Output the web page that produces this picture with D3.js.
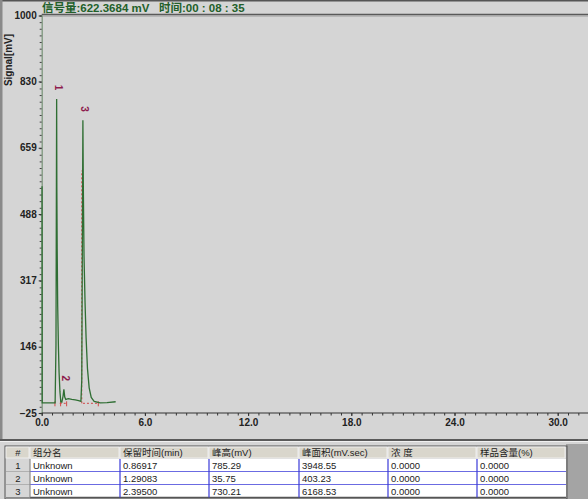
<!DOCTYPE html>
<html>
<head>
<meta charset="utf-8" />
<title>chromatogram</title>
<style>
  body { margin: 0; background: #d5d5d5; }
  svg { display: block; }
  text { font-family: "Liberation Sans", Arial, sans-serif; }
  .cjk { font-family: "Liberation Sans", "Noto Sans CJK SC", sans-serif; }
</style>
</head>
<body>
<svg id="mysvg" width="588" height="499"></svg>
<script src="https://d3js.org/d3.v7.min.js"></script>
<script>

// signal trace (min, mV)
var traceTime   = [0.02, 0.03, 0.78, 0.83, 0.869, 0.88, 0.90, 0.93, 0.97, 1.01, 1.06, 1.11, 1.17, 1.24, 1.29, 1.34, 1.40, 1.55, 1.75, 1.95, 2.15, 2.28, 2.33, 2.395, 2.42, 2.46, 2.52, 2.58, 2.66, 2.76, 2.88, 3.05, 3.40, 3.80, 4.30];
var traceSignal = [560,  1,    1,    150,  785,   560,  400,  250,  150,  80,   30,   4,    3,    18,   36,   16,   10,   12,   10,   9,    7,    5,    60,   730,   560,  380,  260,  170,  90,   40,   15,   5,    1,    2,    4];

var peakNo     = ["1", "2", "3"];
var peakTime   = [0.86917, 1.29083, 2.395];
var peakHeight = [785.29, 35.75, 730.21];

// integration marks (red dashed)
var markTime   = [0.77, 1.10, 1.45, 3.29];
var baseStart  = [1.05, 2.40];
var baseEnd    = [1.45, 3.29];

var yTicks = [-25, 146, 317, 488, 659, 830, 1000];
var xTicks = [0, 6, 12, 18, 24, 30];

var colHead  = ["#", "组分名", "保留时间(min)", "峰高(mV)", "峰面积(mV.sec)", "浓 度", "样品含量(%)"];
var rowNo    = ["1", "2", "3"];
var names    = ["Unknown", "Unknown", "Unknown"];
var retTimes = ["0.86917", "1.29083", "2.39500"];
var heights  = ["785.29", "35.75", "730.21"];
var areas    = ["3948.55", "403.23", "6168.53"];
var concs    = ["0.0000", "0.0000", "0.0000"];
var contents = ["0.0000", "0.0000", "0.0000"];

var svg = d3.select("#mysvg");

var x = d3.scaleLinear().domain([0, 30]).range([41.7, 557.7]);
var y = d3.scaleLinear().domain([-25, 1000]).range([413, 15.5]);

// window frame bits
svg.append("rect").attr("x", 0).attr("y", 0).attr("width", 588).attr("height", 1.5).attr("fill", "#555");
svg.append("rect").attr("x", 0).attr("y", 0).attr("width", 2.5).attr("height", 440).attr("fill", "#8a8a8a");
svg.append("line").attr("x1", 41.7).attr("x2", 588).attr("y1", 14.5).attr("y2", 14.5).attr("stroke", "#5a5a5a").attr("stroke-width", 1.5);
svg.append("line").attr("x1", 41.7).attr("x2", 588).attr("y1", 16).attr("y2", 16).attr("stroke", "#9a9a9a").attr("stroke-width", 1);

// title
svg.append("text").attr("class", "cjk")
  .attr("x", 42).attr("y", 11.5)
  .attr("font-size", 11.5).attr("font-weight", "bold").attr("fill", "#22602a")
  .style("white-space", "pre")
  .text("信号量:622.3684 mV   时间:00 : 08 : 35");

// y axis
var yMinor = d3.range(0, 61).map(function(i) { return 1000 - i * 17.1; }).filter(function(v) { return v >= -25; });
svg.append("g").attr("transform", "translate(41.7,0)")
  .call(d3.axisLeft(y).tickValues(yMinor).tickSize(2).tickFormat(""))
  .call(function(g) {
    g.select(".domain").attr("stroke", "#7d977d").attr("stroke-width", 1.3);
    g.selectAll(".tick line").attr("stroke", "#444");
  });
svg.append("g").attr("transform", "translate(41.7,0)")
  .call(d3.axisLeft(y).tickValues(yTicks).tickSize(3).tickPadding(2).tickFormat(d3.format("d")))
  .call(function(g) {
    g.select(".domain").remove();
    g.selectAll(".tick line").attr("stroke", "#333");
    g.selectAll(".tick text").attr("font-size", 10).attr("font-weight", "bold").attr("fill", "#222")
      .attr("font-family", "Liberation Sans, Arial, sans-serif");
  });

svg.append("text")
  .attr("transform", "translate(12,60) rotate(-90)")
  .attr("text-anchor", "middle")
  .attr("font-size", 10).attr("font-weight", "bold").attr("fill", "#222")
  .text("Signal[mV]");

// x axis
svg.append("line").attr("x1", 41.7).attr("x2", 588).attr("y1", 413).attr("y2", 413).attr("stroke", "#333").attr("stroke-width", 1.2);
var xMinor = d3.range(0, 53).map(function(i) { return i * 0.6; });
svg.append("g").attr("transform", "translate(0,413)")
  .call(d3.axisBottom(x).tickValues(xMinor).tickSize(2.5).tickFormat(""))
  .call(function(g) {
    g.select(".domain").remove();
    g.selectAll(".tick line").attr("stroke", "#333");
  });
svg.append("g").attr("transform", "translate(0,413)")
  .call(d3.axisBottom(x).tickValues(xTicks).tickSize(3).tickPadding(3).tickFormat(d3.format(".1f")))
  .call(function(g) {
    g.select(".domain").remove();
    g.selectAll(".tick line").attr("stroke", "#333");
    g.selectAll(".tick text").attr("font-size", 10).attr("font-weight", "bold").attr("fill", "#222")
      .attr("font-family", "Liberation Sans, Arial, sans-serif");
  });

// integration marks
var red = "#d04848";
svg.append("line")
  .attr("x1", x(2.33)).attr("x2", x(2.33)).attr("y1", y(0)).attr("y2", y(600))
  .attr("stroke", red).attr("stroke-width", 1).attr("stroke-dasharray", "2,2");
svg.selectAll(".base").data(baseStart).enter().append("line")
  .attr("x1", function(d) { return x(d); })
  .attr("x2", function(d, i) { return x(baseEnd[i]); })
  .attr("y1", y(0)).attr("y2", y(0))
  .attr("stroke", red).attr("stroke-width", 1).attr("stroke-dasharray", "2,2");
svg.selectAll(".mark").data(markTime).enter().append("line")
  .attr("x1", function(d) { return x(d); })
  .attr("x2", function(d) { return x(d); })
  .attr("y1", y(0) - 2).attr("y2", y(0) + 3)
  .attr("stroke", red).attr("stroke-width", 1);

// signal trace
var trace = traceTime.map(function(t, i) { return [t, traceSignal[i]]; });
var line = d3.line()
  .x(function(d) { return x(d[0]); })
  .y(function(d) { return y(d[1]); });
svg.append("path").datum(trace)
  .attr("d", line)
  .attr("fill", "none").attr("stroke", "#2f6e33").attr("stroke-width", 1.3);

// peak numbers
svg.selectAll(".pk").data(peakNo).enter().append("text")
  .attr("transform", function(d, i) {
    return "translate(" + (x(peakTime[i]) - 2) + "," + (y(peakHeight[i]) - 14) + ") rotate(90)";
  })
  .attr("font-size", 10).attr("font-weight", "bold").attr("fill", "#8e1c4e")
  .text(function(d) { return d; });

// divider between chart and table
svg.append("rect").attr("x", 0).attr("y", 439).attr("width", 588).attr("height", 2).attr("fill", "#5a5a5a");
svg.append("rect").attr("x", 0).attr("y", 441).attr("width", 588).attr("height", 1).attr("fill", "#f0f0f0");

// table
var colX = [6, 30, 120, 209, 299, 388, 477, 566];
var rowY = [447, 459, 472, 485, 497.5];
var cols = [rowNo, names, retTimes, heights, areas, concs, contents];

svg.append("rect").attr("x", 566).attr("y", 444).attr("width", 22).attr("height", 55).attr("fill", "#a4a4a4");
svg.append("rect").attr("x", colX[0] - 1).attr("y", rowY[0] - 1).attr("width", 566 - colX[0] + 2).attr("height", 53)
  .attr("fill", "none").attr("stroke", "#555").attr("stroke-width", 1);

// header
svg.selectAll(".hcell").data(colHead).enter().append("rect")
  .attr("x", function(d, i) { return colX[i]; })
  .attr("y", rowY[0])
  .attr("width", function(d, i) { return colX[i + 1] - colX[i] - 1; })
  .attr("height", rowY[1] - rowY[0] - 1)
  .attr("fill", "#d9d6cc").attr("stroke", "#f4f4f4").attr("stroke-width", 0.8);
svg.selectAll(".htext").data(colHead).enter().append("text").attr("class", "cjk")
  .attr("x", function(d, i) { return i == 0 ? (colX[0] + colX[1]) / 2 : colX[i] + 3; })
  .attr("y", rowY[0] + 9)
  .attr("text-anchor", function(d, i) { return i == 0 ? "middle" : "start"; })
  .attr("font-size", 9.5).attr("fill", "#222")
  .text(function(d) { return d; });

// body rows
rowNo.forEach(function(r, ri) {
  cols.forEach(function(c, ci) {
    svg.append("rect")
      .attr("x", colX[ci]).attr("y", rowY[ri + 1])
      .attr("width", colX[ci + 1] - colX[ci]).attr("height", rowY[ri + 2] - rowY[ri + 1])
      .attr("fill", ci == 0 ? "#d6d6d6" : "#ffffff");
    svg.append("text")
      .attr("x", ci == 0 ? (colX[0] + colX[1]) / 2 : colX[ci] + 3)
      .attr("y", rowY[ri + 1] + 9.5)
      .attr("text-anchor", ci == 0 ? "middle" : "start")
      .attr("font-size", 9.5).attr("fill", "#222")
      .text(c[ri]);
  });
  // row separator
  svg.append("line")
    .attr("x1", colX[1]).attr("x2", colX[7]).attr("y1", rowY[ri + 2]).attr("y2", rowY[ri + 2])
    .attr("stroke", ri == 2 ? "#555" : "#3a3ad8").attr("stroke-width", 1.3);
  svg.append("line")
    .attr("x1", colX[0]).attr("x2", colX[1]).attr("y1", rowY[ri + 2]).attr("y2", rowY[ri + 2])
    .attr("stroke", "#8a8a8a").attr("stroke-width", 1);
});

// column dividers in the body
colX.slice(1, 7).forEach(function(cx, i) {
  svg.append("line")
    .attr("x1", cx).attr("x2", cx).attr("y1", rowY[1]).attr("y2", rowY[4])
    .attr("stroke", i == 0 ? "#8a8a8a" : "#3a3ad8").attr("stroke-width", 1.2);
});

</script>
</body>
</html>
